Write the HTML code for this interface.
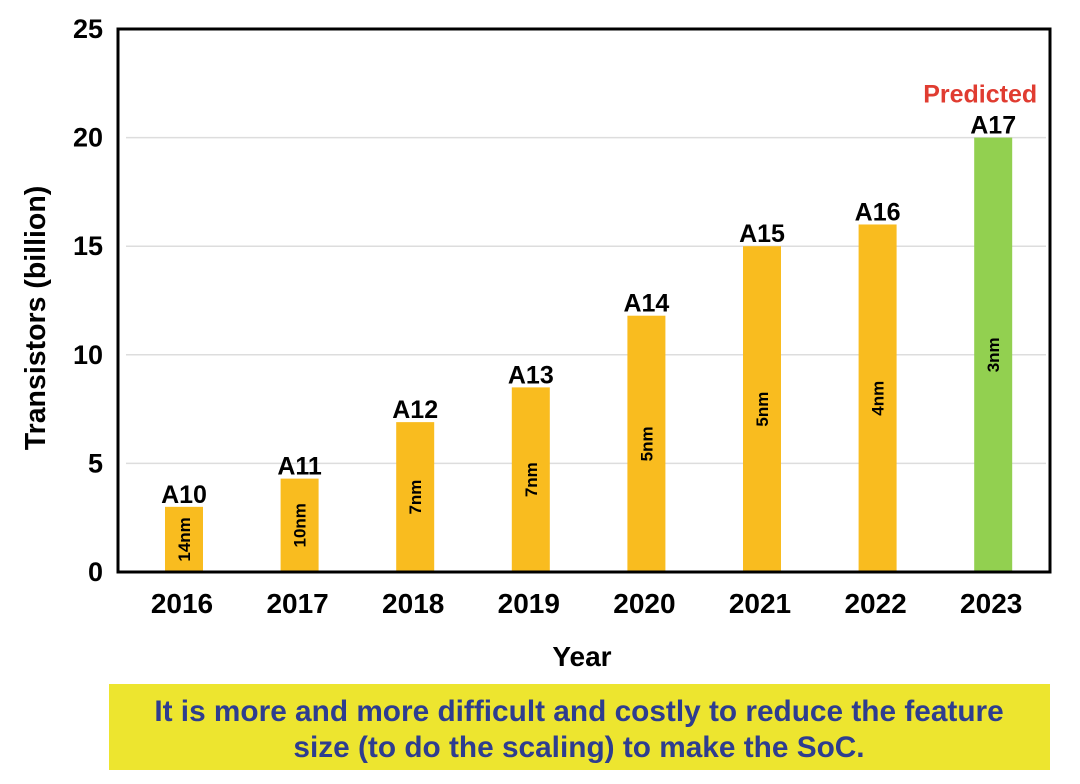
<!DOCTYPE html>
<html><head><meta charset="utf-8"><style>
body{margin:0;background:#fff;}
svg text{font-family:"Liberation Sans",Arial,sans-serif;font-weight:bold;}
</style></head><body>
<svg id="chart" width="1080" height="779" viewBox="0 0 1080 779">
<rect x="109" y="684" width="941" height="86" fill="#ede52f"/>
<text x="579" y="721" font-size="29.8" fill="#2e3d8f" text-anchor="middle">It is more and more difficult and costly to reduce the feature</text>
<text x="579" y="757" font-size="29.8" fill="#2e3d8f" text-anchor="middle">size (to do the scaling) to make the SoC.</text>
<text x="582" y="666" font-size="28" text-anchor="middle">Year</text>
<text transform="translate(45,318) rotate(-90)" font-size="28.5" text-anchor="middle">Transistors (billion)</text>
<g id="grid"></g><g id="bars"></g><g id="labels"></g>
<rect x="118" y="29" width="932" height="543" fill="none" stroke="#000" stroke-width="3"/>
</svg>
<script>
const years=["2016","2017","2018","2019","2020","2021","2022","2023"];
const chips=["A10","A11","A12","A13","A14","A15","A16","A17"];
const nodes=["14nm","10nm","7nm","7nm","5nm","5nm","4nm","3nm"];
const transistors=[3.0,4.3,6.9,8.5,11.8,15.0,16.0,20.0];
const predicted=[false,false,false,false,false,false,false,true];
const yTicks=[0,5,10,15,20,25];
const NS="http://www.w3.org/2000/svg";
const y=v=>572-v*(543/25);
const x=i=>184+i*115.6;
function mk(t,a,txt){const e=document.createElementNS(NS,t);for(const k in a)e.setAttribute(k,a[k]);if(txt!==undefined)e.textContent=txt;return e;}
const g=document.getElementById('grid'),b=document.getElementById('bars'),l=document.getElementById('labels');
yTicks.forEach(v=>{
 if(v>0&&v<25){const ln=mk('line',{x1:126,x2:1046,y1:y(v),y2:y(v),stroke:'#ddd','stroke-width':1.5});
 
 g.appendChild(ln);}
 const t=mk('text',{x:103,y:y(v)+9,'font-size':27,'text-anchor':'end'},v);
 
 l.appendChild(t);
});
years.forEach((yr,i)=>{
 const r=mk('rect',{x:x(i)-19,y:y(transistors[i]),width:38,height:572-y(transistors[i]),fill:predicted[i]?'#92d050':'#f9bc1f'});
 
 b.appendChild(r);
 const t=mk('text',{x:x(i)-2,y:613,'font-size':28,'text-anchor':'middle'},yr);
 
 l.appendChild(t);
 const c=mk('text',{x:x(i),y:y(transistors[i])-4,'font-size':25,'text-anchor':'middle'},chips[i]);
 
 l.appendChild(c);
 const my=(y(transistors[i])+572)/2;
 const n=mk('text',{transform:`translate(${x(i)+6},${my}) rotate(-90)`,'font-size':17,'text-anchor':'middle'},nodes[i]);
 
 l.appendChild(n);
 if(predicted[i]){const p=mk('text',{x:x(i)-13,y:y(transistors[i])-35,'font-size':25,fill:'#e03c31','text-anchor':'middle'},'Predicted');
 
 l.appendChild(p);}
});
</script>
</body></html>
